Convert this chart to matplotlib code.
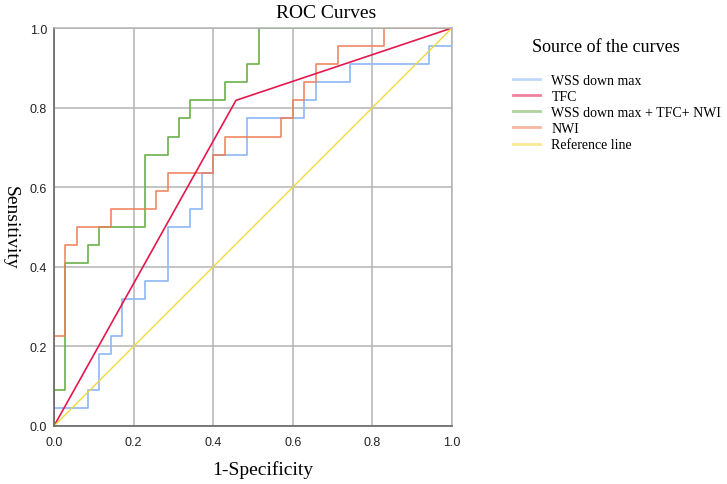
import matplotlib

matplotlib.use("Agg")
import matplotlib.pyplot as plt
import numpy as np

# counts: 35 negatives, 22 positives
n_neg = 35
n_pos = 22

# ROC operating points (false positive count, true positive count)
wss_fp = [0, 3, 4, 5, 6, 8, 10, 12, 13, 14, 17, 22, 23, 26, 33, 35, 35]
wss_tp = [0, 1, 2, 4, 5, 7, 8, 11, 12, 14, 15, 17, 18, 19, 20, 21, 22]

tfc_fp = [0, 16, 35]
tfc_tp = [0, 18, 22]

combo_fp = [0, 1, 3, 4, 8, 10, 11, 12, 15, 17, 18, 35]
combo_tp = [0, 2, 9, 10, 11, 15, 16, 17, 18, 19, 20, 22]

nwi_fp = [0, 1, 2, 5, 9, 10, 14, 15, 20, 21, 22, 23, 25, 29, 35]
nwi_tp = [0, 5, 10, 11, 12, 13, 14, 15, 16, 17, 18, 19, 20, 21, 22]

ref_x = [0.0, 1.0]
ref_y = [0.0, 1.0]

labels = [
    "WSS down max",
    "TFC",
    "WSS down max + TFC+ NWI",
    "NWI",
    "Reference line",
]
colors = ["#8cb8f5", "#e3194e", "#6cb04a", "#ef7b52", "#f0da3a"]
ticks = [0.0, 0.2, 0.4, 0.6, 0.8, 1.0]

serif = ["Liberation Serif", "DejaVu Serif"]
sans = ["Liberation Sans", "DejaVu Sans"]


def plotting() -> None:
    fig = plt.figure(figsize=(7.27, 4.85), dpi=100)
    ax = fig.add_axes([0.0743, 0.1196, 0.5474, 0.8206])

    lw = 1.2
    ax.plot(
        np.array(wss_fp) / n_neg,
        np.array(wss_tp) / n_pos,
        drawstyle="steps-pre",
        color=colors[0],
        lw=lw,
    )
    ax.plot(
        np.array(combo_fp) / n_neg,
        np.array(combo_tp) / n_pos,
        drawstyle="steps-pre",
        color=colors[2],
        lw=lw,
    )
    # NWI sits over the combined curve where they share the top edge
    ax.plot(
        np.array(nwi_fp) / n_neg,
        np.array(nwi_tp) / n_pos,
        drawstyle="steps-pre",
        color=colors[3],
        lw=lw,
        alpha=0.9,
    )
    ax.plot(np.array(tfc_fp) / n_neg, np.array(tfc_tp) / n_pos, color=colors[1], lw=lw)
    ax.plot(ref_x, ref_y, color=colors[4], lw=1.0)

    ax.set_xlim(0, 1)
    ax.set_ylim(0, 1)
    ax.set_xticks(ticks)
    ax.set_yticks(ticks)
    ax.set_xticklabels([f"{t:.1f}" for t in ticks], fontsize=9, family=sans, color="#222222")
    ax.set_yticklabels([f"{t:.1f}" for t in ticks], fontsize=9, family=sans, color="#222222")
    ax.tick_params(axis="x", length=0, pad=7)
    ax.tick_params(axis="y", length=0, pad=5)
    ax.grid(True, color="#b4b4b4", lw=1.1)
    ax.set_axisbelow(True)
    for side in ["top", "right"]:
        ax.spines[side].set_color("#b4b4b4")
        ax.spines[side].set_linewidth(1.1)
    for side in ["left", "bottom"]:
        ax.spines[side].set_color("#666666")
        ax.spines[side].set_linewidth(1.2)

    fig.text(0.448, 0.972, "ROC Curves", fontsize=14, family=serif, ha="center", va="center")
    fig.text(0.362, 0.030, "1-Specificity", fontsize=14, family=serif, ha="center", va="center")
    fig.text(
        0.014, 0.530, "Sensitivity", fontsize=14, family=serif,
        ha="center", va="center", rotation=-90,
    )

    # legend with faded handles
    handles = [
        plt.Line2D([], [], color=c, lw=2.0, alpha=0.55) for c in colors
    ]
    fig.text(0.834, 0.903, "Source of the curves", fontsize=13, family=serif, ha="center", va="center")
    fig.legend(
        handles,
        labels,
        loc="upper left",
        bbox_to_anchor=(0.706, 0.845),
        frameon=False,
        prop={"family": serif, "size": 10},
        handlelength=1.95,
        handletextpad=0.8,
        labelspacing=0.22,
        borderpad=0.0,
        borderaxespad=0.0,
    )

    fig.savefig("out.png", dpi=100)


def main() -> None:
    plotting()


main()
